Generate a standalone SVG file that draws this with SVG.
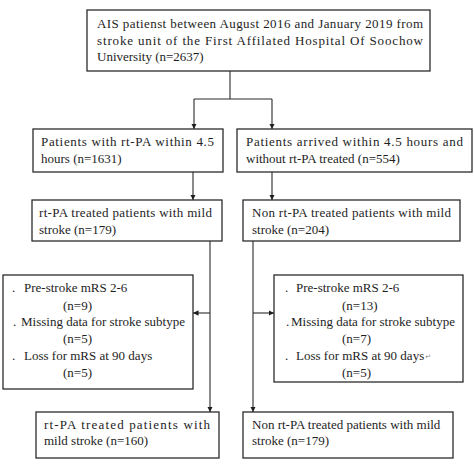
<svg xmlns="http://www.w3.org/2000/svg" width="474" height="474" viewBox="0 0 474 474">
<style>
.box{fill:#fff;stroke:#2b2b2b;stroke-width:1.3}
.t{font-family:"Liberation Serif","Times New Roman",serif;font-size:13px;fill:#1e1e1e}
.ln{fill:none;stroke:#2b2b2b;stroke-width:1.1}
.pm{font-family:"DejaVu Sans",sans-serif;font-size:7px;fill:#888}
</style>
<defs>
<marker id="ah" viewBox="0 0 10 10" refX="10" refY="5" markerWidth="5.5" markerHeight="5.5" markerUnits="userSpaceOnUse" orient="auto">
<path d="M0,0 L10,5 L0,10 Z" fill="#1e1e1e"/>
</marker>
</defs>
<rect width="474" height="474" fill="#fff"/>
<g id="connectors">
<path class="ln" d="M230,71 V99 M194,99 H272"/>
<path class="ln" d="M194,99 V129" marker-end="url(#ah)"/>
<path class="ln" d="M272,99 V129" marker-end="url(#ah)"/>
<path class="ln" d="M193,172 V200" marker-end="url(#ah)"/>
<path class="ln" d="M272,172 V200" marker-end="url(#ah)"/>
<path class="ln" d="M210,241 V412" marker-end="url(#ah)"/>
<path class="ln" d="M253,241 V412" marker-end="url(#ah)"/>
<path class="ln" d="M210,313 H193" marker-end="url(#ah)"/>
<path class="ln" d="M253,313 H274" marker-end="url(#ah)"/>
</g>
<g id="n1">
<rect class="box" x="87" y="10" width="343" height="61"/>
<text class="t" x="97" y="28" textLength="326" lengthAdjust="spacing">AIS patienst between August 2016 and January 2019 from</text>
<text class="t" x="97" y="44.5" textLength="326" lengthAdjust="spacing">stroke unit of the First Affilated Hospital Of Soochow</text>
<text class="t" x="97" y="61">University (n=2637)</text>
</g>
<g id="n2">
<rect class="box" x="33" y="129" width="190" height="43"/>
<text class="t" x="41" y="146" textLength="173" lengthAdjust="spacing">Patients with rt-PA within 4.5</text>
<text class="t" x="41" y="163">hours (n=1631)</text>
</g>
<g id="n3">
<rect class="box" x="237" y="129" width="235" height="43"/>
<text class="t" x="246" y="146" textLength="217" lengthAdjust="spacing">Patients arrived within 4.5 hours and</text>
<text class="t" x="246" y="163">without rt-PA treated (n=554)</text>
</g>
<g id="n4">
<rect class="box" x="32" y="200" width="190" height="41"/>
<text class="t" x="39" y="217" textLength="173" lengthAdjust="spacing">rt-PA treated patients with mild</text>
<text class="t" x="39" y="234">stroke (n=179)</text>
</g>
<g id="n5">
<rect class="box" x="243" y="200" width="217" height="41"/>
<text class="t" x="252" y="217" textLength="199" lengthAdjust="spacing">Non rt-PA treated patients with mild</text>
<text class="t" x="252" y="234">stroke (n=204)</text>
</g>
<g id="n6">
<rect class="box" x="3" y="275" width="190" height="114"/>
<text class="t" y="292"><tspan x="12">.</tspan><tspan x="24">Pre-stroke mRS 2-6</tspan></text>
<text class="t" x="63" y="309.5">(n=9)</text>
<text class="t" y="326"><tspan x="13">.</tspan><tspan x="21">Missing data for stroke subtype</tspan></text>
<text class="t" x="63" y="343">(n=5)</text>
<text class="t" y="360"><tspan x="12">.</tspan><tspan x="24">Loss for mRS at 90 days</tspan></text>
<text class="t" x="63" y="377">(n=5)</text>
</g>
<g id="n7">
<rect class="box" x="274" y="275" width="189" height="107"/>
<text class="t" y="292"><tspan x="285">.</tspan><tspan x="296">Pre-stroke mRS 2-6</tspan></text>
<text class="t" x="342" y="309.5">(n=13)</text>
<text class="t" y="326"><tspan x="286">.</tspan><tspan x="291">Missing data for stroke subtype</tspan></text>
<text class="t" x="342" y="343">(n=7)</text>
<text class="t" y="360"><tspan x="285">.</tspan><tspan x="296">Loss for mRS at 90 days</tspan><tspan class="pm" dx="1" dy="-1">↵</tspan></text>
<text class="t" x="342" y="377">(n=5)</text>
</g>
<g id="n8">
<rect class="box" x="36" y="412" width="183" height="46"/>
<text class="t" x="44" y="429" textLength="166" lengthAdjust="spacing">rt-PA  treated  patients  with</text>
<text class="t" x="44" y="445">mild stroke (n=160)</text>
</g>
<g id="n9">
<rect class="box" x="243" y="412" width="210" height="46"/>
<text class="t" x="252" y="429">Non rt-PA treated patients with mild</text>
<text class="t" x="252" y="445">stroke (n=179)</text>
</g>
</svg>
